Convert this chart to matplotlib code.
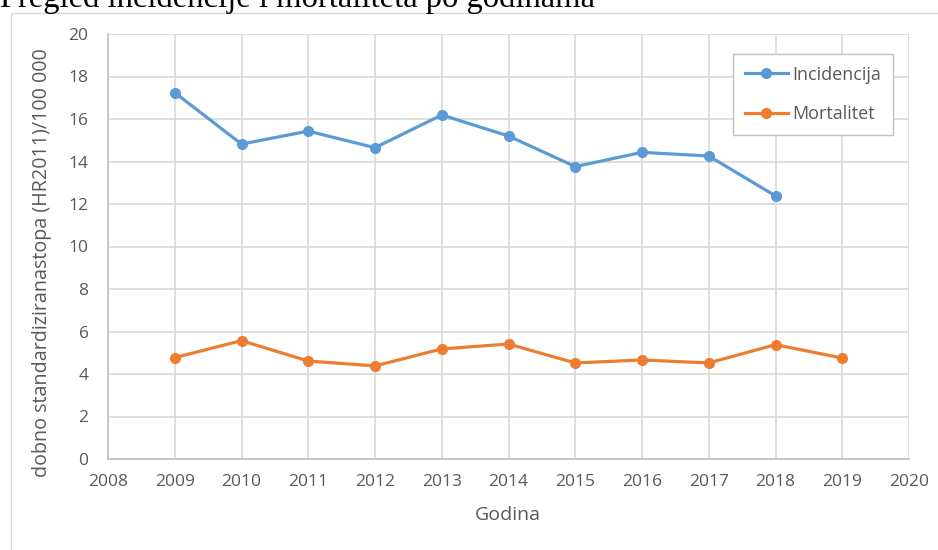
import matplotlib.pyplot as plt
from matplotlib.patches import Rectangle

# data
godine_inc = [2009, 2010, 2011, 2012, 2013, 2014, 2015, 2016, 2017, 2018]
incidencija = [17.24, 14.82, 15.43, 14.65, 16.19, 15.2, 13.76, 14.43, 14.26, 12.38]
godine_mort = [2009, 2010, 2011, 2012, 2013, 2014, 2015, 2016, 2017, 2018, 2019]
mortalitet = [4.77, 5.57, 4.61, 4.38, 5.18, 5.41, 4.52, 4.66, 4.52, 5.38, 4.75]
x_ticks = list(range(2008, 2021))
y_ticks = list(range(0, 21, 2))

plt.rcParams['font.family'] = ['Open Sans', 'DejaVu Sans']
txt_col = '#595959'
grid_col = '#d9d9d9'

fig = plt.figure(figsize=(9.38, 5.5), dpi=100)

# chart frame (runs off the right and bottom edge)
frame = Rectangle((10.5 / 938, -0.2), 1.2, 1 - 12.5 / 550 + 0.2,
                  transform=fig.transFigure, fill=False,
                  edgecolor='#d9d9d9', linewidth=1.0)
fig.patches.append(frame)

# title, partly cut off at the top
fig.text(0.0, 1 - 7 / 550, 'Pregled incidencije i mortaliteta po godinama',
         family='Liberation Serif', fontsize=23.5, va='baseline', ha='left',
         color='black')

ax = fig.add_axes([108 / 938, 1 - 459 / 550, (909 - 108) / 938, (459 - 34) / 550])
ax.plot(godine_inc, incidencija, color='#5B9BD5', linewidth=2.3, marker='o',
        markersize=7, label='Incidencija', zorder=3)
ax.plot(godine_mort, mortalitet, color='#ED7D31', linewidth=2.3, marker='o',
        markersize=7, label='Mortalitet', zorder=3)

ax.set_xlim(2008, 2020)
ax.set_ylim(0, 20)
ax.set_xticks(x_ticks)
ax.set_yticks(y_ticks)
ax.grid(True, color=grid_col, linewidth=1.2)
ax.set_axisbelow(True)
for side in ['top', 'right']:
    ax.spines[side].set_visible(False)
for side in ['left', 'bottom']:
    ax.spines[side].set_color('#bfbfbf')
    ax.spines[side].set_linewidth(1.2)
ax.tick_params(length=0, labelsize=12.5, labelcolor=txt_col)
ax.tick_params(axis='x', pad=11)
ax.tick_params(axis='y', pad=14)

fig.text(508 / 938, 1 - 515 / 550, 'Godina', ha='center', va='center',
         fontsize=14, color=txt_col)
fig.text(42 / 938, 1 - 263 / 550, 'dobno standardiziranastopa (HR2011)/100 000',
         rotation=90, ha='center', va='center', fontsize=14.2, color=txt_col)

leg = ax.legend(loc='upper left', bbox_to_anchor=(733 / 938, 1 - 54 / 550),
                bbox_transform=fig.transFigure, fancybox=False,
                framealpha=1, edgecolor='#bfbfbf', fontsize=13,
                labelspacing=1.2, handlelength=2.4, handletextpad=0.25,
                borderpad=0.65, borderaxespad=0)
leg.get_frame().set_linewidth(1.0)
for t in leg.get_texts():
    t.set_color(txt_col)

fig.savefig('out.png', dpi=100)
